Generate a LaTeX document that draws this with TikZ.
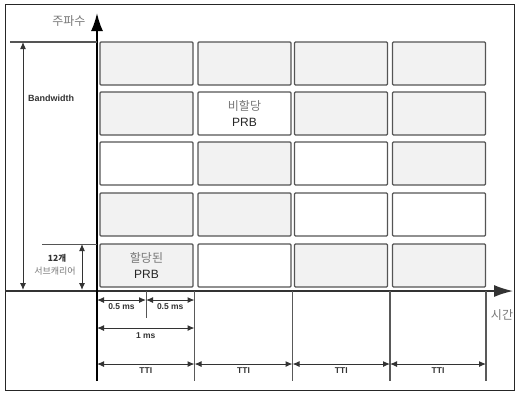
\documentclass[tikz,border=0pt]{standalone}
\usepackage{fontspec}
\setmainfont{Liberation Sans}
\newfontfamily\kr{Noto Sans CJK KR}
\usetikzlibrary{arrows.meta}

\definecolor{pieno}{HTML}{F2F2F2}
\definecolor{vuoto}{HTML}{FFFFFF}
\definecolor{bordo}{HTML}{555555}
\definecolor{testo}{HTML}{777777}

\tikzset{
    prb/.style={draw=bordo, line width=1.3pt, rounded corners=1pt,
        minimum width=93pt, minimum height=43pt, inner sep=0pt},
    scritta/.style={align=center, font=\fontsize{12}{16}\selectfont, text=black!85},
    quota/.style={{Latex[length=7pt,width=6pt]}-{Latex[length=7pt,width=6pt]},
        line width=1pt, black!80},
    etichetta/.style={font=\fontsize{8.5}{10}\selectfont\bfseries, text=black!80},
    kor/.style={font=\fontsize{12}{14}\selectfont\kr, text=testo},
    divisore/.style={line width=1.9pt, black!65},
}

\begin{document}
\begin{tikzpicture}[x=1pt, y=-1pt]
    \useasboundingbox (0,0) rectangle (518,392);

    % Cornice
    \draw[line width=0.9pt, black!85] (5,4) rectangle (514,390);

    % Blocchi PRB
    \foreach \y/\r/\a/\b/\c/\d in {63.5/1/pieno/pieno/pieno/pieno,
                                   113.5/2/pieno/vuoto/pieno/pieno,
                                   163.5/3/vuoto/pieno/vuoto/pieno,
                                   214.5/4/pieno/pieno/vuoto/vuoto,
                                   265.5/5/pieno/vuoto/pieno/pieno} {
        \node[prb, fill=\a] (p\r-1) at (146.5,\y) {};
        \node[prb, fill=\b] (p\r-2) at (244.5,\y) {};
        \node[prb, fill=\c] (p\r-3) at (341,\y) {};
        \node[prb, fill=\d] (p\r-4) at (439,\y) {};
    }
    \node[scritta] (alloc) at (p5-1) {{\kr\color{testo}할당된}\\PRB};
    \node[scritta] (nonalloc) at (p2-2) {{\kr\color{testo}비할당}\\PRB};

    % Assi
    \coordinate (fbase) at (97,381);
    \coordinate (fcima) at (97,13);
    \coordinate (tinizio) at (5,291);
    \coordinate (tfine) at (513,291);
    \draw[line width=1.4pt, black!80, -{Latex[length=19pt,width=12pt]}] (tinizio) -- (tfine);
    \draw[line width=1.8pt, -{Latex[length=18pt,width=12pt]}] (fbase) -- (fcima);
    \node[kor, anchor=east] (freq) at (89,21) {주파수};
    \node[kor] (tempo) at (502,315) {시간};

    % Bandwidth
    \coordinate (bwsx) at (10,42);
    \coordinate (bwdx) at (97,42);
    \coordinate (bw1) at (23,42);
    \coordinate (bw2) at (23,290);
    \draw[line width=1.2pt, bordo] (bwsx) -- (bwdx);
    \draw[quota] (bw1) -- (bw2);
    \node[etichetta, font=\fontsize{9}{10}\selectfont\bfseries] (bw) at (51,98) {Bandwidth};

    % 12 sottoportanti
    \coordinate (scsx) at (42,244);
    \coordinate (scdx) at (97,244);
    \coordinate (sc1) at (82,244);
    \coordinate (sc2) at (82,290);
    \draw[line width=1pt, bordo] (scsx) -- (scdx);
    \draw[quota] (sc1) -- (sc2);
    \node[font=\fontsize{8.5}{10}\selectfont\kr\bfseries, text=black!80] (sc12) at (57,258) {12개};
    \node[font=\fontsize{9}{10}\selectfont\kr, text=testo] (scnome) at (55,271) {서브캐리어};

    % Griglia dei tempi
    \foreach \x [count=\i from 0] in {97,194.5,292.5,390,486} {
        \coordinate (s\i) at (\x,291);
        \coordinate (g\i) at (\x,381);
        \coordinate (q\i) at (\x,364);
    }
    \foreach \i in {1,2,3,4} {
        \draw[divisore] (s\i) -- (g\i);
    }

    % Quote 0.5 ms e 1 ms
    \coordinate (m0) at (97,300);
    \coordinate (m1) at (146,300);
    \coordinate (m2) at (194.5,300);
    \coordinate (d1) at (146,291);
    \coordinate (d2) at (146,318);
    \draw[line width=1pt, bordo] (d1) -- (d2);
    \draw[quota] (m0) -- node[etichetta, below] (mezzo1) {0.5 ms} (m1);
    \draw[quota] (m1) -- node[etichetta, below] (mezzo2) {0.5 ms} (m2);
    \coordinate (u0) at (97,328);
    \coordinate (u1) at (194.5,328);
    \draw[quota] (u0) -- node[etichetta, below, yshift=-1pt] (uno) {1 ms} (u1);

    % TTI
    \foreach \i/\j in {0/1, 1/2, 2/3, 3/4} {
        \draw[quota] (q\i) -- node[etichetta, below] (tti\i) {TTI} (q\j);
    }
\end{tikzpicture}
\end{document}
